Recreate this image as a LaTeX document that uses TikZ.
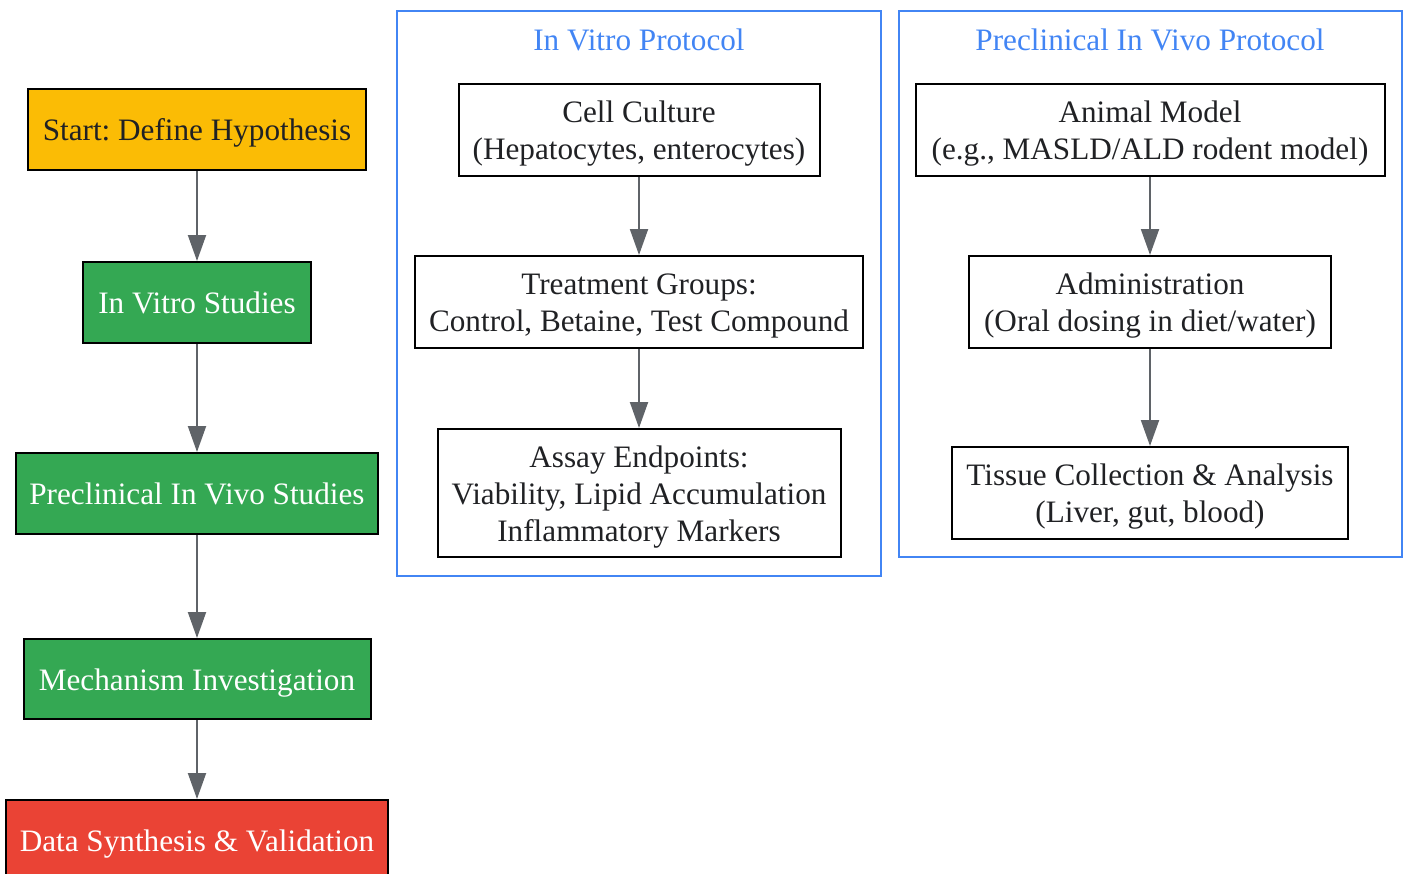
\documentclass[tikz,border=0pt]{standalone}
\usepackage{fontspec}
\setmainfont{Liberation Serif}
\frenchspacing
\usetikzlibrary{arrows.meta}
\definecolor{gyellow}{HTML}{FBBC05}
\definecolor{ggreen}{HTML}{34A853}
\definecolor{gred}{HTML}{EA4335}
\definecolor{gblue}{HTML}{4285F4}
\definecolor{ggray}{HTML}{5F6368}
\definecolor{txt}{HTML}{202124}
\newcommand\tstrut{\rule{0pt}{14.7pt}}
\tikzset{
  struts/.style={execute at begin node={\tstrut},
    execute at end node={\rule[-3.5pt]{0pt}{3.5pt}}},
  box/.style={draw=black, line width=1pt, inner sep=0pt, align=center,
    font=\fontsize{15.6pt}{18.5pt}\selectfont, text=txt, struts},
  flow/.style={box, text=white, fill=ggreen},
  cluster/.style={draw=gblue, line width=1pt},
  ctitle/.style={font=\fontsize{15.6pt}{18.5pt}\selectfont, text=gblue, inner sep=0pt, struts},
  conn/.style={draw=ggray, line width=1pt, -{Triangle[length=13pt,width=9pt]}}
}
\begin{document}
\begin{tikzpicture}[x=0.5pt,y=-0.5pt]
\useasboundingbox (0,0) rectangle (1407,873);
% left flow
\node[box, fill=gyellow, minimum width=169pt, minimum height=40.5pt] (start) at (197,129.5) {Start: Define Hypothesis};
\node[flow, minimum width=114pt, minimum height=40.5pt] (vitro) at (197,302.5) {In Vitro Studies};
\node[flow, minimum width=181pt, minimum height=40.5pt] (vivo) at (197,493.5) {Preclinical In Vivo Studies};
\node[flow, minimum width=173.5pt, minimum height=40pt] (mech) at (197,679) {Mechanism Investigation};
\node[box, text=white, fill=gred, minimum width=191pt, minimum height=40.5pt] (data) at (197,840.5) {Data Synthesis \& Validation};
\draw[conn] (start) -- (vitro);
\draw[conn] (vitro) -- (vivo);
\draw[conn] (vivo) -- (mech);
\draw[conn] (mech) -- (data);
% in vitro cluster
\draw[cluster] (397,11) rectangle (881,576);
\node[ctitle] (t1) at (639,39) {In Vitro Protocol};
\node[box, minimum width=180.5pt, minimum height=46pt] (cell) at (639,130) {\tstrut Cell Culture\\(Hepatocytes, enterocytes)};
\node[box, minimum width=224pt, minimum height=46pt] (treat) at (639,302) {\tstrut Treatment Groups:\\Control, Betaine, Test Compound};
\node[box, minimum width=201.5pt, minimum height=64pt] (assay) at (639,493) {\tstrut Assay Endpoints:\\Viability, Lipid Accumulation\\Inflammatory Markers};
\draw[conn] (cell) -- (treat);
\draw[conn] (treat) -- (assay);
% in vivo cluster
\draw[cluster] (899,11) rectangle (1402,557);
\node[ctitle] (t2) at (1150,39) {Preclinical In Vivo Protocol};
\node[box, minimum width=234.5pt, minimum height=46pt] (animal) at (1150,130) {\tstrut Animal Model\\(e.g., MASLD/ALD rodent model)};
\node[box, minimum width=181pt, minimum height=46pt] (admin) at (1150,302) {\tstrut Administration\\(Oral dosing in diet/water)};
\node[box, minimum width=198pt, minimum height=46pt] (tissue) at (1150,493) {\tstrut Tissue Collection \& Analysis\\(Liver, gut, blood)};
\draw[conn] (animal) -- (admin);
\draw[conn] (admin) -- (tissue);
\end{tikzpicture}
\end{document}
